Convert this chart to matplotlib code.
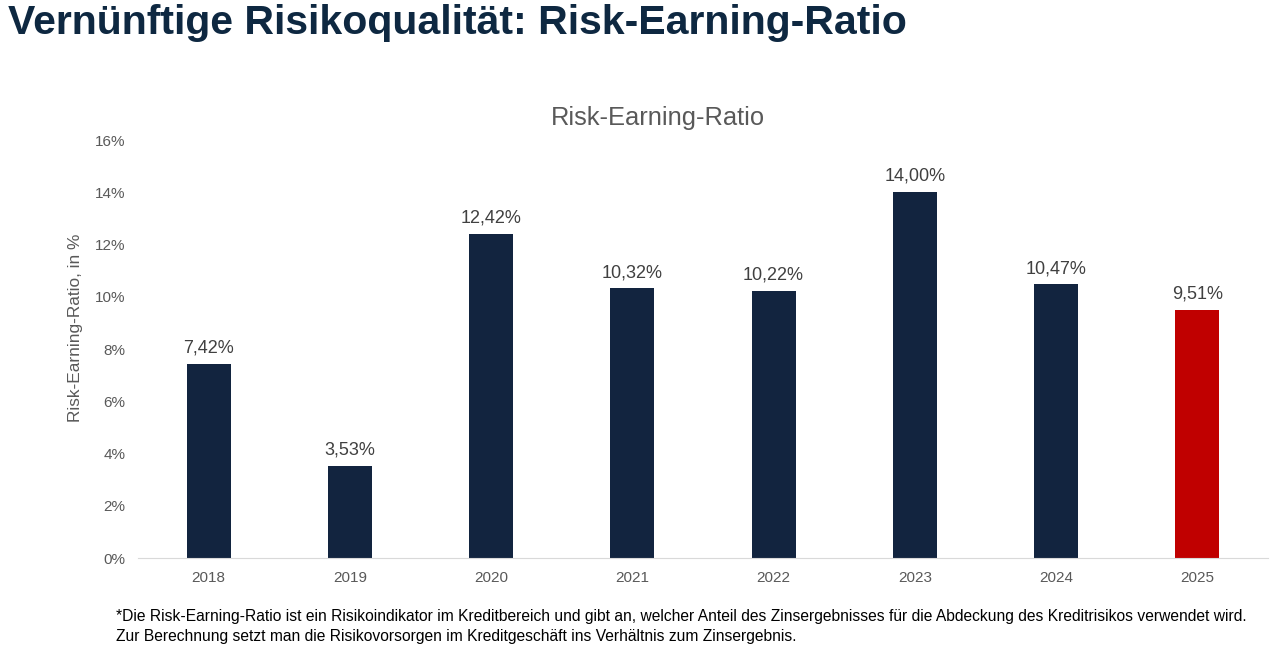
import matplotlib
matplotlib.use('Agg')
import matplotlib.pyplot as plt

years = ['2018', '2019', '2020', '2021', '2022', '2023', '2024', '2025']
ratio = [7.42, 3.53, 12.42, 10.32, 10.22, 14.00, 10.47, 9.51]
labels = ['7,42%', '3,53%', '12,42%', '10,32%', '10,22%', '14,00%', '10,47%', '9,51%']
yticks = [0, 2, 4, 6, 8, 10, 12, 14, 16]

navy = '#12243F'
red = '#C00000'
gray = '#595959'

plt.rcParams['font.family'] = ['Liberation Sans', 'DejaVu Sans']

fig = plt.figure(figsize=(12.79, 6.49), dpi=100)
ax = fig.add_axes([138 / 1279, 1 - 558 / 649, 1130 / 1279, 418 / 649])

colors = [navy] * (len(years) - 1) + [red]
x = range(len(years))
bars = ax.bar(x, ratio, width=0.31, color=colors)
for b, lab in zip(bars, labels):
    ax.text(b.get_x() + b.get_width() / 2, b.get_height() + 0.28, lab,
            ha='center', va='bottom', fontsize=13, color='#404040')

ax.set_xlim(-0.5, len(years) - 0.5)
ax.set_ylim(0, 16)
ax.set_xticks(list(x))
ax.set_xticklabels(years, fontsize=11, color=gray)
ax.set_yticks(yticks)
ax.set_yticklabels([str(t) + '%' for t in yticks], fontsize=11, color=gray)
ax.tick_params(axis='x', length=0, pad=9.5)
ax.tick_params(axis='y', length=0, pad=9)
for s in ['top', 'right', 'left']:
    ax.spines[s].set_visible(False)
ax.spines['bottom'].set_color('#D9D9D9')
ax.set_ylabel('Risk-Earning-Ratio, in %', fontsize=12.4, color=gray)
ax.yaxis.set_label_coords(-0.0487, 0.55)

fig.text(658 / 1279, 1 - 118 / 649, 'Risk-Earning-Ratio', ha='center', va='center',
         fontsize=18.4, color=gray)
fig.text(8 / 1279, 1 - 23 / 649, 'Vernünftige Risikoqualität: Risk-Earning-Ratio',
         ha='left', va='center', fontsize=29.5, fontweight='bold', color='#0E2841')
fig.text(116 / 1279, 1 - 617 / 649,
         '*Die Risk-Earning-Ratio ist ein Risikoindikator im Kreditbereich und gibt an, welcher Anteil des Zinsergebnisses für die Abdeckung des Kreditrisikos verwendet wird.',
         ha='left', va='center', fontsize=11.27, color='black')
fig.text(116 / 1279, 1 - 636 / 649,
         'Zur Berechnung setzt man die Risikovorsorgen im Kreditgeschäft ins Verhältnis zum Zinsergebnis.',
         ha='left', va='center', fontsize=11.27, color='black')

plt.savefig('out.png', dpi=100)
